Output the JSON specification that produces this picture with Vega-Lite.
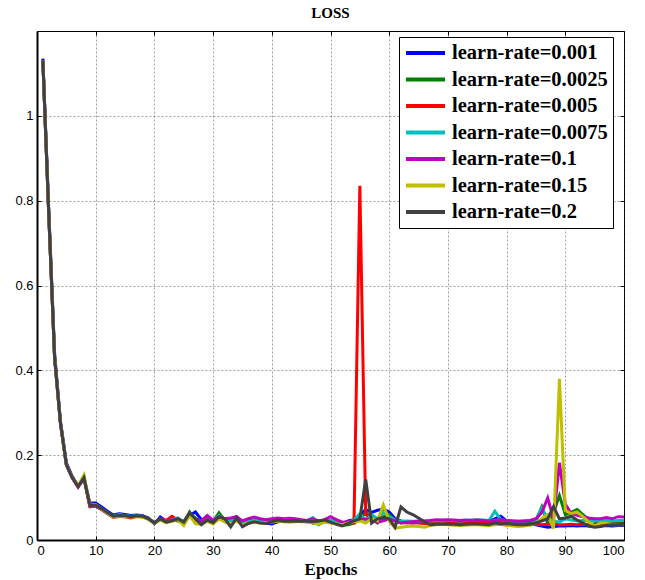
{
"$schema":"https://vega.github.io/schema/vega-lite/v6.json",
"width":587,"height":509,
"autosize":{"type":"none"},
"padding":{"left":37,"top":31,"right":21,"bottom":40},
"background":"white",
"title":{"text":"LOSS","font":"Liberation Serif","fontSize":15,"fontWeight":"bold","color":"black","anchor":"middle","offset":10},
"data":{"values":[
{"s":"learn-rate=0.001","x":1,"y":1.135},{"s":"learn-rate=0.001","x":2,"y":0.78},{"s":"learn-rate=0.001","x":3,"y":0.44},{"s":"learn-rate=0.001","x":4,"y":0.28},{"s":"learn-rate=0.001","x":5,"y":0.182},{"s":"learn-rate=0.001","x":6,"y":0.15},{"s":"learn-rate=0.001","x":7,"y":0.128},{"s":"learn-rate=0.001","x":8,"y":0.145},{"s":"learn-rate=0.001","x":9,"y":0.087},{"s":"learn-rate=0.001","x":10,"y":0.087},
{"s":"learn-rate=0.001","x":11,"y":0.078},{"s":"learn-rate=0.001","x":12,"y":0.068},{"s":"learn-rate=0.001","x":13,"y":0.059},{"s":"learn-rate=0.001","x":14,"y":0.062},{"s":"learn-rate=0.001","x":15,"y":0.06},{"s":"learn-rate=0.001","x":16,"y":0.058},{"s":"learn-rate=0.001","x":17,"y":0.059},{"s":"learn-rate=0.001","x":18,"y":0.057},{"s":"learn-rate=0.001","x":19,"y":0.052},{"s":"learn-rate=0.001","x":20,"y":0.038},
{"s":"learn-rate=0.001","x":21,"y":0.054},{"s":"learn-rate=0.001","x":22,"y":0.045},{"s":"learn-rate=0.001","x":23,"y":0.047},{"s":"learn-rate=0.001","x":24,"y":0.048},{"s":"learn-rate=0.001","x":25,"y":0.04},{"s":"learn-rate=0.001","x":26,"y":0.058},{"s":"learn-rate=0.001","x":27,"y":0.066},{"s":"learn-rate=0.001","x":28,"y":0.048},{"s":"learn-rate=0.001","x":29,"y":0.05},{"s":"learn-rate=0.001","x":30,"y":0.045},
{"s":"learn-rate=0.001","x":31,"y":0.05},{"s":"learn-rate=0.001","x":32,"y":0.045},{"s":"learn-rate=0.001","x":33,"y":0.05},{"s":"learn-rate=0.001","x":34,"y":0.046},{"s":"learn-rate=0.001","x":35,"y":0.043},{"s":"learn-rate=0.001","x":36,"y":0.045},{"s":"learn-rate=0.001","x":37,"y":0.047},{"s":"learn-rate=0.001","x":38,"y":0.042},{"s":"learn-rate=0.001","x":39,"y":0.04},{"s":"learn-rate=0.001","x":40,"y":0.038},
{"s":"learn-rate=0.001","x":41,"y":0.043},{"s":"learn-rate=0.001","x":42,"y":0.045},{"s":"learn-rate=0.001","x":43,"y":0.044},{"s":"learn-rate=0.001","x":44,"y":0.046},{"s":"learn-rate=0.001","x":45,"y":0.043},{"s":"learn-rate=0.001","x":46,"y":0.045},{"s":"learn-rate=0.001","x":47,"y":0.04},{"s":"learn-rate=0.001","x":48,"y":0.038},{"s":"learn-rate=0.001","x":49,"y":0.043},{"s":"learn-rate=0.001","x":50,"y":0.045},
{"s":"learn-rate=0.001","x":51,"y":0.04},{"s":"learn-rate=0.001","x":52,"y":0.038},{"s":"learn-rate=0.001","x":53,"y":0.045},{"s":"learn-rate=0.001","x":54,"y":0.048},{"s":"learn-rate=0.001","x":55,"y":0.058},{"s":"learn-rate=0.001","x":56,"y":0.072},{"s":"learn-rate=0.001","x":57,"y":0.065},{"s":"learn-rate=0.001","x":58,"y":0.07},{"s":"learn-rate=0.001","x":59,"y":0.073},{"s":"learn-rate=0.001","x":60,"y":0.066},
{"s":"learn-rate=0.001","x":61,"y":0.05},{"s":"learn-rate=0.001","x":62,"y":0.045},{"s":"learn-rate=0.001","x":63,"y":0.042},{"s":"learn-rate=0.001","x":64,"y":0.04},{"s":"learn-rate=0.001","x":65,"y":0.042},{"s":"learn-rate=0.001","x":66,"y":0.04},{"s":"learn-rate=0.001","x":67,"y":0.041},{"s":"learn-rate=0.001","x":68,"y":0.042},{"s":"learn-rate=0.001","x":69,"y":0.043},{"s":"learn-rate=0.001","x":70,"y":0.044},
{"s":"learn-rate=0.001","x":71,"y":0.043},{"s":"learn-rate=0.001","x":72,"y":0.042},{"s":"learn-rate=0.001","x":73,"y":0.044},{"s":"learn-rate=0.001","x":74,"y":0.045},{"s":"learn-rate=0.001","x":75,"y":0.044},{"s":"learn-rate=0.001","x":76,"y":0.043},{"s":"learn-rate=0.001","x":77,"y":0.044},{"s":"learn-rate=0.001","x":78,"y":0.05},{"s":"learn-rate=0.001","x":79,"y":0.056},{"s":"learn-rate=0.001","x":80,"y":0.045},
{"s":"learn-rate=0.001","x":81,"y":0.04},{"s":"learn-rate=0.001","x":82,"y":0.039},{"s":"learn-rate=0.001","x":83,"y":0.038},{"s":"learn-rate=0.001","x":84,"y":0.037},{"s":"learn-rate=0.001","x":85,"y":0.036},{"s":"learn-rate=0.001","x":86,"y":0.033},{"s":"learn-rate=0.001","x":87,"y":0.03},{"s":"learn-rate=0.001","x":88,"y":0.032},{"s":"learn-rate=0.001","x":89,"y":0.033},{"s":"learn-rate=0.001","x":90,"y":0.033},
{"s":"learn-rate=0.001","x":91,"y":0.034},{"s":"learn-rate=0.001","x":92,"y":0.033},{"s":"learn-rate=0.001","x":93,"y":0.034},{"s":"learn-rate=0.001","x":94,"y":0.033},{"s":"learn-rate=0.001","x":95,"y":0.034},{"s":"learn-rate=0.001","x":96,"y":0.033},{"s":"learn-rate=0.001","x":97,"y":0.034},{"s":"learn-rate=0.001","x":98,"y":0.033},{"s":"learn-rate=0.001","x":99,"y":0.034},{"s":"learn-rate=0.001","x":100,"y":0.034},

{"s":"learn-rate=0.0025","x":1,"y":1.13},{"s":"learn-rate=0.0025","x":2,"y":0.77},{"s":"learn-rate=0.0025","x":3,"y":0.43},{"s":"learn-rate=0.0025","x":4,"y":0.275},{"s":"learn-rate=0.0025","x":5,"y":0.178},{"s":"learn-rate=0.0025","x":6,"y":0.147},{"s":"learn-rate=0.0025","x":7,"y":0.126},{"s":"learn-rate=0.0025","x":8,"y":0.148},{"s":"learn-rate=0.0025","x":9,"y":0.082},{"s":"learn-rate=0.0025","x":10,"y":0.082},
{"s":"learn-rate=0.0025","x":11,"y":0.073},{"s":"learn-rate=0.0025","x":12,"y":0.064},{"s":"learn-rate=0.0025","x":13,"y":0.055},{"s":"learn-rate=0.0025","x":14,"y":0.056},{"s":"learn-rate=0.0025","x":15,"y":0.056},{"s":"learn-rate=0.0025","x":16,"y":0.054},{"s":"learn-rate=0.0025","x":17,"y":0.056},{"s":"learn-rate=0.0025","x":18,"y":0.055},{"s":"learn-rate=0.0025","x":19,"y":0.049},{"s":"learn-rate=0.0025","x":20,"y":0.041},
{"s":"learn-rate=0.0025","x":21,"y":0.048},{"s":"learn-rate=0.0025","x":22,"y":0.043},{"s":"learn-rate=0.0025","x":23,"y":0.047},{"s":"learn-rate=0.0025","x":24,"y":0.045},{"s":"learn-rate=0.0025","x":25,"y":0.041},{"s":"learn-rate=0.0025","x":26,"y":0.066},{"s":"learn-rate=0.0025","x":27,"y":0.047},{"s":"learn-rate=0.0025","x":28,"y":0.04},{"s":"learn-rate=0.0025","x":29,"y":0.045},{"s":"learn-rate=0.0025","x":30,"y":0.044},
{"s":"learn-rate=0.0025","x":31,"y":0.064},{"s":"learn-rate=0.0025","x":32,"y":0.046},{"s":"learn-rate=0.0025","x":33,"y":0.047},{"s":"learn-rate=0.0025","x":34,"y":0.055},{"s":"learn-rate=0.0025","x":35,"y":0.038},{"s":"learn-rate=0.0025","x":36,"y":0.042},{"s":"learn-rate=0.0025","x":37,"y":0.046},{"s":"learn-rate=0.0025","x":38,"y":0.044},{"s":"learn-rate=0.0025","x":39,"y":0.043},{"s":"learn-rate=0.0025","x":40,"y":0.045},
{"s":"learn-rate=0.0025","x":41,"y":0.048},{"s":"learn-rate=0.0025","x":42,"y":0.046},{"s":"learn-rate=0.0025","x":43,"y":0.045},{"s":"learn-rate=0.0025","x":44,"y":0.046},{"s":"learn-rate=0.0025","x":45,"y":0.045},{"s":"learn-rate=0.0025","x":46,"y":0.044},{"s":"learn-rate=0.0025","x":47,"y":0.046},{"s":"learn-rate=0.0025","x":48,"y":0.044},{"s":"learn-rate=0.0025","x":49,"y":0.046},{"s":"learn-rate=0.0025","x":50,"y":0.044},
{"s":"learn-rate=0.0025","x":51,"y":0.04},{"s":"learn-rate=0.0025","x":52,"y":0.035},{"s":"learn-rate=0.0025","x":53,"y":0.036},{"s":"learn-rate=0.0025","x":54,"y":0.04},{"s":"learn-rate=0.0025","x":55,"y":0.05},{"s":"learn-rate=0.0025","x":56,"y":0.065},{"s":"learn-rate=0.0025","x":57,"y":0.052},{"s":"learn-rate=0.0025","x":58,"y":0.04},{"s":"learn-rate=0.0025","x":59,"y":0.055},{"s":"learn-rate=0.0025","x":60,"y":0.06},
{"s":"learn-rate=0.0025","x":61,"y":0.045},{"s":"learn-rate=0.0025","x":62,"y":0.04},{"s":"learn-rate=0.0025","x":63,"y":0.042},{"s":"learn-rate=0.0025","x":64,"y":0.043},{"s":"learn-rate=0.0025","x":65,"y":0.041},{"s":"learn-rate=0.0025","x":66,"y":0.04},{"s":"learn-rate=0.0025","x":67,"y":0.041},{"s":"learn-rate=0.0025","x":68,"y":0.042},{"s":"learn-rate=0.0025","x":69,"y":0.042},{"s":"learn-rate=0.0025","x":70,"y":0.043},
{"s":"learn-rate=0.0025","x":71,"y":0.042},{"s":"learn-rate=0.0025","x":72,"y":0.041},{"s":"learn-rate=0.0025","x":73,"y":0.042},{"s":"learn-rate=0.0025","x":74,"y":0.043},{"s":"learn-rate=0.0025","x":75,"y":0.043},{"s":"learn-rate=0.0025","x":76,"y":0.042},{"s":"learn-rate=0.0025","x":77,"y":0.043},{"s":"learn-rate=0.0025","x":78,"y":0.044},{"s":"learn-rate=0.0025","x":79,"y":0.043},{"s":"learn-rate=0.0025","x":80,"y":0.042},
{"s":"learn-rate=0.0025","x":81,"y":0.041},{"s":"learn-rate=0.0025","x":82,"y":0.04},{"s":"learn-rate=0.0025","x":83,"y":0.041},{"s":"learn-rate=0.0025","x":84,"y":0.042},{"s":"learn-rate=0.0025","x":85,"y":0.045},{"s":"learn-rate=0.0025","x":86,"y":0.078},{"s":"learn-rate=0.0025","x":87,"y":0.04},{"s":"learn-rate=0.0025","x":88,"y":0.065},{"s":"learn-rate=0.0025","x":89,"y":0.105},{"s":"learn-rate=0.0025","x":90,"y":0.06},
{"s":"learn-rate=0.0025","x":91,"y":0.065},{"s":"learn-rate=0.0025","x":92,"y":0.072},{"s":"learn-rate=0.0025","x":93,"y":0.06},{"s":"learn-rate=0.0025","x":94,"y":0.048},{"s":"learn-rate=0.0025","x":95,"y":0.044},{"s":"learn-rate=0.0025","x":96,"y":0.042},{"s":"learn-rate=0.0025","x":97,"y":0.041},{"s":"learn-rate=0.0025","x":98,"y":0.042},{"s":"learn-rate=0.0025","x":99,"y":0.041},{"s":"learn-rate=0.0025","x":100,"y":0.042},

{"s":"learn-rate=0.005","x":1,"y":1.13},{"s":"learn-rate=0.005","x":2,"y":0.77},{"s":"learn-rate=0.005","x":3,"y":0.43},{"s":"learn-rate=0.005","x":4,"y":0.275},{"s":"learn-rate=0.005","x":5,"y":0.177},{"s":"learn-rate=0.005","x":6,"y":0.146},{"s":"learn-rate=0.005","x":7,"y":0.125},{"s":"learn-rate=0.005","x":8,"y":0.146},{"s":"learn-rate=0.005","x":9,"y":0.078},{"s":"learn-rate=0.005","x":10,"y":0.08},
{"s":"learn-rate=0.005","x":11,"y":0.072},{"s":"learn-rate=0.005","x":12,"y":0.063},{"s":"learn-rate=0.005","x":13,"y":0.055},{"s":"learn-rate=0.005","x":14,"y":0.056},{"s":"learn-rate=0.005","x":15,"y":0.055},{"s":"learn-rate=0.005","x":16,"y":0.052},{"s":"learn-rate=0.005","x":17,"y":0.056},{"s":"learn-rate=0.005","x":18,"y":0.055},{"s":"learn-rate=0.005","x":19,"y":0.05},{"s":"learn-rate=0.005","x":20,"y":0.042},
{"s":"learn-rate=0.005","x":21,"y":0.05},{"s":"learn-rate=0.005","x":22,"y":0.046},{"s":"learn-rate=0.005","x":23,"y":0.056},{"s":"learn-rate=0.005","x":24,"y":0.047},{"s":"learn-rate=0.005","x":25,"y":0.044},{"s":"learn-rate=0.005","x":26,"y":0.06},{"s":"learn-rate=0.005","x":27,"y":0.048},{"s":"learn-rate=0.005","x":28,"y":0.042},{"s":"learn-rate=0.005","x":29,"y":0.05},{"s":"learn-rate=0.005","x":30,"y":0.044},
{"s":"learn-rate=0.005","x":31,"y":0.058},{"s":"learn-rate=0.005","x":32,"y":0.048},{"s":"learn-rate=0.005","x":33,"y":0.045},{"s":"learn-rate=0.005","x":34,"y":0.05},{"s":"learn-rate=0.005","x":35,"y":0.042},{"s":"learn-rate=0.005","x":36,"y":0.046},{"s":"learn-rate=0.005","x":37,"y":0.048},{"s":"learn-rate=0.005","x":38,"y":0.045},{"s":"learn-rate=0.005","x":39,"y":0.044},{"s":"learn-rate=0.005","x":40,"y":0.046},
{"s":"learn-rate=0.005","x":41,"y":0.047},{"s":"learn-rate=0.005","x":42,"y":0.045},{"s":"learn-rate=0.005","x":43,"y":0.046},{"s":"learn-rate=0.005","x":44,"y":0.047},{"s":"learn-rate=0.005","x":45,"y":0.045},{"s":"learn-rate=0.005","x":46,"y":0.043},{"s":"learn-rate=0.005","x":47,"y":0.045},{"s":"learn-rate=0.005","x":48,"y":0.042},{"s":"learn-rate=0.005","x":49,"y":0.045},{"s":"learn-rate=0.005","x":50,"y":0.046},
{"s":"learn-rate=0.005","x":51,"y":0.042},{"s":"learn-rate=0.005","x":52,"y":0.04},{"s":"learn-rate=0.005","x":53,"y":0.042},{"s":"learn-rate=0.005","x":54,"y":0.04},{"s":"learn-rate=0.005","x":55,"y":0.835},{"s":"learn-rate=0.005","x":56,"y":0.06},{"s":"learn-rate=0.005","x":57,"y":0.05},{"s":"learn-rate=0.005","x":58,"y":0.048},{"s":"learn-rate=0.005","x":59,"y":0.05},{"s":"learn-rate=0.005","x":60,"y":0.052},
{"s":"learn-rate=0.005","x":61,"y":0.045},{"s":"learn-rate=0.005","x":62,"y":0.042},{"s":"learn-rate=0.005","x":63,"y":0.04},{"s":"learn-rate=0.005","x":64,"y":0.041},{"s":"learn-rate=0.005","x":65,"y":0.04},{"s":"learn-rate=0.005","x":66,"y":0.039},{"s":"learn-rate=0.005","x":67,"y":0.04},{"s":"learn-rate=0.005","x":68,"y":0.041},{"s":"learn-rate=0.005","x":69,"y":0.04},{"s":"learn-rate=0.005","x":70,"y":0.041},
{"s":"learn-rate=0.005","x":71,"y":0.04},{"s":"learn-rate=0.005","x":72,"y":0.039},{"s":"learn-rate=0.005","x":73,"y":0.04},{"s":"learn-rate=0.005","x":74,"y":0.041},{"s":"learn-rate=0.005","x":75,"y":0.04},{"s":"learn-rate=0.005","x":76,"y":0.039},{"s":"learn-rate=0.005","x":77,"y":0.04},{"s":"learn-rate=0.005","x":78,"y":0.045},{"s":"learn-rate=0.005","x":79,"y":0.04},{"s":"learn-rate=0.005","x":80,"y":0.035},
{"s":"learn-rate=0.005","x":81,"y":0.034},{"s":"learn-rate=0.005","x":82,"y":0.035},{"s":"learn-rate=0.005","x":83,"y":0.036},{"s":"learn-rate=0.005","x":84,"y":0.036},{"s":"learn-rate=0.005","x":85,"y":0.037},{"s":"learn-rate=0.005","x":86,"y":0.036},{"s":"learn-rate=0.005","x":87,"y":0.037},{"s":"learn-rate=0.005","x":88,"y":0.038},{"s":"learn-rate=0.005","x":89,"y":0.036},{"s":"learn-rate=0.005","x":90,"y":0.036},
{"s":"learn-rate=0.005","x":91,"y":0.037},{"s":"learn-rate=0.005","x":92,"y":0.036},{"s":"learn-rate=0.005","x":93,"y":0.037},{"s":"learn-rate=0.005","x":94,"y":0.036},{"s":"learn-rate=0.005","x":95,"y":0.037},{"s":"learn-rate=0.005","x":96,"y":0.036},{"s":"learn-rate=0.005","x":97,"y":0.037},{"s":"learn-rate=0.005","x":98,"y":0.038},{"s":"learn-rate=0.005","x":99,"y":0.037},{"s":"learn-rate=0.005","x":100,"y":0.038},

{"s":"learn-rate=0.0075","x":1,"y":1.13},{"s":"learn-rate=0.0075","x":2,"y":0.77},{"s":"learn-rate=0.0075","x":3,"y":0.43},{"s":"learn-rate=0.0075","x":4,"y":0.275},{"s":"learn-rate=0.0075","x":5,"y":0.178},{"s":"learn-rate=0.0075","x":6,"y":0.147},{"s":"learn-rate=0.0075","x":7,"y":0.126},{"s":"learn-rate=0.0075","x":8,"y":0.147},{"s":"learn-rate=0.0075","x":9,"y":0.082},{"s":"learn-rate=0.0075","x":10,"y":0.082},
{"s":"learn-rate=0.0075","x":11,"y":0.074},{"s":"learn-rate=0.0075","x":12,"y":0.065},{"s":"learn-rate=0.0075","x":13,"y":0.056},{"s":"learn-rate=0.0075","x":14,"y":0.06},{"s":"learn-rate=0.0075","x":15,"y":0.058},{"s":"learn-rate=0.0075","x":16,"y":0.056},{"s":"learn-rate=0.0075","x":17,"y":0.058},{"s":"learn-rate=0.0075","x":18,"y":0.056},{"s":"learn-rate=0.0075","x":19,"y":0.05},{"s":"learn-rate=0.0075","x":20,"y":0.042},
{"s":"learn-rate=0.0075","x":21,"y":0.05},{"s":"learn-rate=0.0075","x":22,"y":0.044},{"s":"learn-rate=0.0075","x":23,"y":0.048},{"s":"learn-rate=0.0075","x":24,"y":0.052},{"s":"learn-rate=0.0075","x":25,"y":0.043},{"s":"learn-rate=0.0075","x":26,"y":0.062},{"s":"learn-rate=0.0075","x":27,"y":0.052},{"s":"learn-rate=0.0075","x":28,"y":0.044},{"s":"learn-rate=0.0075","x":29,"y":0.048},{"s":"learn-rate=0.0075","x":30,"y":0.045},
{"s":"learn-rate=0.0075","x":31,"y":0.058},{"s":"learn-rate=0.0075","x":32,"y":0.047},{"s":"learn-rate=0.0075","x":33,"y":0.046},{"s":"learn-rate=0.0075","x":34,"y":0.05},{"s":"learn-rate=0.0075","x":35,"y":0.041},{"s":"learn-rate=0.0075","x":36,"y":0.044},{"s":"learn-rate=0.0075","x":37,"y":0.047},{"s":"learn-rate=0.0075","x":38,"y":0.046},{"s":"learn-rate=0.0075","x":39,"y":0.044},{"s":"learn-rate=0.0075","x":40,"y":0.046},
{"s":"learn-rate=0.0075","x":41,"y":0.047},{"s":"learn-rate=0.0075","x":42,"y":0.046},{"s":"learn-rate=0.0075","x":43,"y":0.047},{"s":"learn-rate=0.0075","x":44,"y":0.046},{"s":"learn-rate=0.0075","x":45,"y":0.045},{"s":"learn-rate=0.0075","x":46,"y":0.046},{"s":"learn-rate=0.0075","x":47,"y":0.053},{"s":"learn-rate=0.0075","x":48,"y":0.036},{"s":"learn-rate=0.0075","x":49,"y":0.045},{"s":"learn-rate=0.0075","x":50,"y":0.047},
{"s":"learn-rate=0.0075","x":51,"y":0.043},{"s":"learn-rate=0.0075","x":52,"y":0.04},{"s":"learn-rate=0.0075","x":53,"y":0.042},{"s":"learn-rate=0.0075","x":54,"y":0.047},{"s":"learn-rate=0.0075","x":55,"y":0.062},{"s":"learn-rate=0.0075","x":56,"y":0.045},{"s":"learn-rate=0.0075","x":57,"y":0.06},{"s":"learn-rate=0.0075","x":58,"y":0.05},{"s":"learn-rate=0.0075","x":59,"y":0.065},{"s":"learn-rate=0.0075","x":60,"y":0.055},
{"s":"learn-rate=0.0075","x":61,"y":0.047},{"s":"learn-rate=0.0075","x":62,"y":0.044},{"s":"learn-rate=0.0075","x":63,"y":0.045},{"s":"learn-rate=0.0075","x":64,"y":0.044},{"s":"learn-rate=0.0075","x":65,"y":0.045},{"s":"learn-rate=0.0075","x":66,"y":0.044},{"s":"learn-rate=0.0075","x":67,"y":0.045},{"s":"learn-rate=0.0075","x":68,"y":0.046},{"s":"learn-rate=0.0075","x":69,"y":0.045},{"s":"learn-rate=0.0075","x":70,"y":0.046},
{"s":"learn-rate=0.0075","x":71,"y":0.046},{"s":"learn-rate=0.0075","x":72,"y":0.045},{"s":"learn-rate=0.0075","x":73,"y":0.046},{"s":"learn-rate=0.0075","x":74,"y":0.047},{"s":"learn-rate=0.0075","x":75,"y":0.048},{"s":"learn-rate=0.0075","x":76,"y":0.047},{"s":"learn-rate=0.0075","x":77,"y":0.046},{"s":"learn-rate=0.0075","x":78,"y":0.068},{"s":"learn-rate=0.0075","x":79,"y":0.048},{"s":"learn-rate=0.0075","x":80,"y":0.046},
{"s":"learn-rate=0.0075","x":81,"y":0.045},{"s":"learn-rate=0.0075","x":82,"y":0.044},{"s":"learn-rate=0.0075","x":83,"y":0.045},{"s":"learn-rate=0.0075","x":84,"y":0.046},{"s":"learn-rate=0.0075","x":85,"y":0.048},{"s":"learn-rate=0.0075","x":86,"y":0.075},{"s":"learn-rate=0.0075","x":87,"y":0.05},{"s":"learn-rate=0.0075","x":88,"y":0.045},{"s":"learn-rate=0.0075","x":89,"y":0.042},{"s":"learn-rate=0.0075","x":90,"y":0.05},
{"s":"learn-rate=0.0075","x":91,"y":0.047},{"s":"learn-rate=0.0075","x":92,"y":0.045},{"s":"learn-rate=0.0075","x":93,"y":0.046},{"s":"learn-rate=0.0075","x":94,"y":0.045},{"s":"learn-rate=0.0075","x":95,"y":0.046},{"s":"learn-rate=0.0075","x":96,"y":0.045},{"s":"learn-rate=0.0075","x":97,"y":0.046},{"s":"learn-rate=0.0075","x":98,"y":0.045},{"s":"learn-rate=0.0075","x":99,"y":0.046},{"s":"learn-rate=0.0075","x":100,"y":0.046},

{"s":"learn-rate=0.1","x":1,"y":1.13},{"s":"learn-rate=0.1","x":2,"y":0.77},{"s":"learn-rate=0.1","x":3,"y":0.43},{"s":"learn-rate=0.1","x":4,"y":0.275},{"s":"learn-rate=0.1","x":5,"y":0.178},{"s":"learn-rate=0.1","x":6,"y":0.147},{"s":"learn-rate=0.1","x":7,"y":0.125},{"s":"learn-rate=0.1","x":8,"y":0.147},{"s":"learn-rate=0.1","x":9,"y":0.081},{"s":"learn-rate=0.1","x":10,"y":0.08},
{"s":"learn-rate=0.1","x":11,"y":0.072},{"s":"learn-rate=0.1","x":12,"y":0.062},{"s":"learn-rate=0.1","x":13,"y":0.053},{"s":"learn-rate=0.1","x":14,"y":0.056},{"s":"learn-rate=0.1","x":15,"y":0.056},{"s":"learn-rate=0.1","x":16,"y":0.054},{"s":"learn-rate=0.1","x":17,"y":0.056},{"s":"learn-rate=0.1","x":18,"y":0.055},{"s":"learn-rate=0.1","x":19,"y":0.049},{"s":"learn-rate=0.1","x":20,"y":0.04},
{"s":"learn-rate=0.1","x":21,"y":0.05},{"s":"learn-rate=0.1","x":22,"y":0.044},{"s":"learn-rate=0.1","x":23,"y":0.047},{"s":"learn-rate=0.1","x":24,"y":0.05},{"s":"learn-rate=0.1","x":25,"y":0.042},{"s":"learn-rate=0.1","x":26,"y":0.06},{"s":"learn-rate=0.1","x":27,"y":0.05},{"s":"learn-rate=0.1","x":28,"y":0.045},{"s":"learn-rate=0.1","x":29,"y":0.058},{"s":"learn-rate=0.1","x":30,"y":0.046},
{"s":"learn-rate=0.1","x":31,"y":0.055},{"s":"learn-rate=0.1","x":32,"y":0.05},{"s":"learn-rate=0.1","x":33,"y":0.052},{"s":"learn-rate=0.1","x":34,"y":0.055},{"s":"learn-rate=0.1","x":35,"y":0.045},{"s":"learn-rate=0.1","x":36,"y":0.05},{"s":"learn-rate=0.1","x":37,"y":0.054},{"s":"learn-rate=0.1","x":38,"y":0.05},{"s":"learn-rate=0.1","x":39,"y":0.048},{"s":"learn-rate=0.1","x":40,"y":0.05},
{"s":"learn-rate=0.1","x":41,"y":0.052},{"s":"learn-rate=0.1","x":42,"y":0.05},{"s":"learn-rate=0.1","x":43,"y":0.051},{"s":"learn-rate=0.1","x":44,"y":0.05},{"s":"learn-rate=0.1","x":45,"y":0.048},{"s":"learn-rate=0.1","x":46,"y":0.046},{"s":"learn-rate=0.1","x":47,"y":0.05},{"s":"learn-rate=0.1","x":48,"y":0.045},{"s":"learn-rate=0.1","x":49,"y":0.048},{"s":"learn-rate=0.1","x":50,"y":0.055},
{"s":"learn-rate=0.1","x":51,"y":0.048},{"s":"learn-rate=0.1","x":52,"y":0.042},{"s":"learn-rate=0.1","x":53,"y":0.043},{"s":"learn-rate=0.1","x":54,"y":0.044},{"s":"learn-rate=0.1","x":55,"y":0.048},{"s":"learn-rate=0.1","x":56,"y":0.05},{"s":"learn-rate=0.1","x":57,"y":0.045},{"s":"learn-rate=0.1","x":58,"y":0.042},{"s":"learn-rate=0.1","x":59,"y":0.045},{"s":"learn-rate=0.1","x":60,"y":0.05},
{"s":"learn-rate=0.1","x":61,"y":0.045},{"s":"learn-rate=0.1","x":62,"y":0.04},{"s":"learn-rate=0.1","x":63,"y":0.042},{"s":"learn-rate=0.1","x":64,"y":0.043},{"s":"learn-rate=0.1","x":65,"y":0.044},{"s":"learn-rate=0.1","x":66,"y":0.045},{"s":"learn-rate=0.1","x":67,"y":0.046},{"s":"learn-rate=0.1","x":68,"y":0.048},{"s":"learn-rate=0.1","x":69,"y":0.047},{"s":"learn-rate=0.1","x":70,"y":0.048},
{"s":"learn-rate=0.1","x":71,"y":0.047},{"s":"learn-rate=0.1","x":72,"y":0.046},{"s":"learn-rate=0.1","x":73,"y":0.047},{"s":"learn-rate=0.1","x":74,"y":0.046},{"s":"learn-rate=0.1","x":75,"y":0.047},{"s":"learn-rate=0.1","x":76,"y":0.046},{"s":"learn-rate=0.1","x":77,"y":0.045},{"s":"learn-rate=0.1","x":78,"y":0.047},{"s":"learn-rate=0.1","x":79,"y":0.048},{"s":"learn-rate=0.1","x":80,"y":0.046},
{"s":"learn-rate=0.1","x":81,"y":0.045},{"s":"learn-rate=0.1","x":82,"y":0.044},{"s":"learn-rate=0.1","x":83,"y":0.045},{"s":"learn-rate=0.1","x":84,"y":0.046},{"s":"learn-rate=0.1","x":85,"y":0.05},{"s":"learn-rate=0.1","x":86,"y":0.065},{"s":"learn-rate=0.1","x":87,"y":0.099},{"s":"learn-rate=0.1","x":88,"y":0.05},{"s":"learn-rate=0.1","x":89,"y":0.182},{"s":"learn-rate=0.1","x":90,"y":0.085},
{"s":"learn-rate=0.1","x":91,"y":0.062},{"s":"learn-rate=0.1","x":92,"y":0.058},{"s":"learn-rate=0.1","x":93,"y":0.055},{"s":"learn-rate=0.1","x":94,"y":0.052},{"s":"learn-rate=0.1","x":95,"y":0.05},{"s":"learn-rate=0.1","x":96,"y":0.05},{"s":"learn-rate=0.1","x":97,"y":0.053},{"s":"learn-rate=0.1","x":98,"y":0.05},{"s":"learn-rate=0.1","x":99,"y":0.055},{"s":"learn-rate=0.1","x":100,"y":0.054},

{"s":"learn-rate=0.15","x":1,"y":1.13},{"s":"learn-rate=0.15","x":2,"y":0.77},{"s":"learn-rate=0.15","x":3,"y":0.43},{"s":"learn-rate=0.15","x":4,"y":0.275},{"s":"learn-rate=0.15","x":5,"y":0.178},{"s":"learn-rate=0.15","x":6,"y":0.148},{"s":"learn-rate=0.15","x":7,"y":0.128},{"s":"learn-rate=0.15","x":8,"y":0.153},{"s":"learn-rate=0.15","x":9,"y":0.085},{"s":"learn-rate=0.15","x":10,"y":0.083},
{"s":"learn-rate=0.15","x":11,"y":0.073},{"s":"learn-rate=0.15","x":12,"y":0.063},{"s":"learn-rate=0.15","x":13,"y":0.054},{"s":"learn-rate=0.15","x":14,"y":0.055},{"s":"learn-rate=0.15","x":15,"y":0.055},{"s":"learn-rate=0.15","x":16,"y":0.054},{"s":"learn-rate=0.15","x":17,"y":0.055},{"s":"learn-rate=0.15","x":18,"y":0.054},{"s":"learn-rate=0.15","x":19,"y":0.048},{"s":"learn-rate=0.15","x":20,"y":0.039},
{"s":"learn-rate=0.15","x":21,"y":0.047},{"s":"learn-rate=0.15","x":22,"y":0.041},{"s":"learn-rate=0.15","x":23,"y":0.044},{"s":"learn-rate=0.15","x":24,"y":0.048},{"s":"learn-rate=0.15","x":25,"y":0.034},{"s":"learn-rate=0.15","x":26,"y":0.058},{"s":"learn-rate=0.15","x":27,"y":0.038},{"s":"learn-rate=0.15","x":28,"y":0.037},{"s":"learn-rate=0.15","x":29,"y":0.044},{"s":"learn-rate=0.15","x":30,"y":0.038},
{"s":"learn-rate=0.15","x":31,"y":0.05},{"s":"learn-rate=0.15","x":32,"y":0.042},{"s":"learn-rate=0.15","x":33,"y":0.038},{"s":"learn-rate=0.15","x":34,"y":0.045},{"s":"learn-rate=0.15","x":35,"y":0.035},{"s":"learn-rate=0.15","x":36,"y":0.04},{"s":"learn-rate=0.15","x":37,"y":0.043},{"s":"learn-rate=0.15","x":38,"y":0.04},{"s":"learn-rate=0.15","x":39,"y":0.041},{"s":"learn-rate=0.15","x":40,"y":0.042},
{"s":"learn-rate=0.15","x":41,"y":0.045},{"s":"learn-rate=0.15","x":42,"y":0.043},{"s":"learn-rate=0.15","x":43,"y":0.042},{"s":"learn-rate=0.15","x":44,"y":0.043},{"s":"learn-rate=0.15","x":45,"y":0.044},{"s":"learn-rate=0.15","x":46,"y":0.042},{"s":"learn-rate=0.15","x":47,"y":0.04},{"s":"learn-rate=0.15","x":48,"y":0.038},{"s":"learn-rate=0.15","x":49,"y":0.042},{"s":"learn-rate=0.15","x":50,"y":0.04},
{"s":"learn-rate=0.15","x":51,"y":0.038},{"s":"learn-rate=0.15","x":52,"y":0.036},{"s":"learn-rate=0.15","x":53,"y":0.04},{"s":"learn-rate=0.15","x":54,"y":0.043},{"s":"learn-rate=0.15","x":55,"y":0.045},{"s":"learn-rate=0.15","x":56,"y":0.04},{"s":"learn-rate=0.15","x":57,"y":0.05},{"s":"learn-rate=0.15","x":58,"y":0.045},{"s":"learn-rate=0.15","x":59,"y":0.083},{"s":"learn-rate=0.15","x":60,"y":0.045},
{"s":"learn-rate=0.15","x":61,"y":0.028},{"s":"learn-rate=0.15","x":62,"y":0.03},{"s":"learn-rate=0.15","x":63,"y":0.032},{"s":"learn-rate=0.15","x":64,"y":0.033},{"s":"learn-rate=0.15","x":65,"y":0.032},{"s":"learn-rate=0.15","x":66,"y":0.03},{"s":"learn-rate=0.15","x":67,"y":0.034},{"s":"learn-rate=0.15","x":68,"y":0.036},{"s":"learn-rate=0.15","x":69,"y":0.037},{"s":"learn-rate=0.15","x":70,"y":0.036},
{"s":"learn-rate=0.15","x":71,"y":0.035},{"s":"learn-rate=0.15","x":72,"y":0.034},{"s":"learn-rate=0.15","x":73,"y":0.035},{"s":"learn-rate=0.15","x":74,"y":0.036},{"s":"learn-rate=0.15","x":75,"y":0.036},{"s":"learn-rate=0.15","x":76,"y":0.035},{"s":"learn-rate=0.15","x":77,"y":0.034},{"s":"learn-rate=0.15","x":78,"y":0.036},{"s":"learn-rate=0.15","x":79,"y":0.037},{"s":"learn-rate=0.15","x":80,"y":0.035},
{"s":"learn-rate=0.15","x":81,"y":0.033},{"s":"learn-rate=0.15","x":82,"y":0.032},{"s":"learn-rate=0.15","x":83,"y":0.033},{"s":"learn-rate=0.15","x":84,"y":0.035},{"s":"learn-rate=0.15","x":85,"y":0.04},{"s":"learn-rate=0.15","x":86,"y":0.05},{"s":"learn-rate=0.15","x":87,"y":0.06},{"s":"learn-rate=0.15","x":88,"y":0.027},{"s":"learn-rate=0.15","x":89,"y":0.38},{"s":"learn-rate=0.15","x":90,"y":0.07},
{"s":"learn-rate=0.15","x":91,"y":0.062},{"s":"learn-rate=0.15","x":92,"y":0.066},{"s":"learn-rate=0.15","x":93,"y":0.055},{"s":"learn-rate=0.15","x":94,"y":0.042},{"s":"learn-rate=0.15","x":95,"y":0.033},{"s":"learn-rate=0.15","x":96,"y":0.04},{"s":"learn-rate=0.15","x":97,"y":0.04},{"s":"learn-rate=0.15","x":98,"y":0.036},{"s":"learn-rate=0.15","x":99,"y":0.036},{"s":"learn-rate=0.15","x":100,"y":0.036},

{"s":"learn-rate=0.2","x":1,"y":1.13},{"s":"learn-rate=0.2","x":2,"y":0.77},{"s":"learn-rate=0.2","x":3,"y":0.43},{"s":"learn-rate=0.2","x":4,"y":0.275},{"s":"learn-rate=0.2","x":5,"y":0.178},{"s":"learn-rate=0.2","x":6,"y":0.147},{"s":"learn-rate=0.2","x":7,"y":0.126},{"s":"learn-rate=0.2","x":8,"y":0.147},{"s":"learn-rate=0.2","x":9,"y":0.083},{"s":"learn-rate=0.2","x":10,"y":0.082},
{"s":"learn-rate=0.2","x":11,"y":0.074},{"s":"learn-rate=0.2","x":12,"y":0.065},{"s":"learn-rate=0.2","x":13,"y":0.056},{"s":"learn-rate=0.2","x":14,"y":0.058},{"s":"learn-rate=0.2","x":15,"y":0.057},{"s":"learn-rate=0.2","x":16,"y":0.055},{"s":"learn-rate=0.2","x":17,"y":0.057},{"s":"learn-rate=0.2","x":18,"y":0.056},{"s":"learn-rate=0.2","x":19,"y":0.05},{"s":"learn-rate=0.2","x":20,"y":0.04},
{"s":"learn-rate=0.2","x":21,"y":0.05},{"s":"learn-rate=0.2","x":22,"y":0.042},{"s":"learn-rate=0.2","x":23,"y":0.045},{"s":"learn-rate=0.2","x":24,"y":0.05},{"s":"learn-rate=0.2","x":25,"y":0.042},{"s":"learn-rate=0.2","x":26,"y":0.064},{"s":"learn-rate=0.2","x":27,"y":0.05},{"s":"learn-rate=0.2","x":28,"y":0.036},{"s":"learn-rate=0.2","x":29,"y":0.047},{"s":"learn-rate=0.2","x":30,"y":0.041},
{"s":"learn-rate=0.2","x":31,"y":0.055},{"s":"learn-rate=0.2","x":32,"y":0.05},{"s":"learn-rate=0.2","x":33,"y":0.031},{"s":"learn-rate=0.2","x":34,"y":0.052},{"s":"learn-rate=0.2","x":35,"y":0.031},{"s":"learn-rate=0.2","x":36,"y":0.039},{"s":"learn-rate=0.2","x":37,"y":0.043},{"s":"learn-rate=0.2","x":38,"y":0.04},{"s":"learn-rate=0.2","x":39,"y":0.039},{"s":"learn-rate=0.2","x":40,"y":0.043},
{"s":"learn-rate=0.2","x":41,"y":0.047},{"s":"learn-rate=0.2","x":42,"y":0.044},{"s":"learn-rate=0.2","x":43,"y":0.044},{"s":"learn-rate=0.2","x":44,"y":0.045},{"s":"learn-rate=0.2","x":45,"y":0.044},{"s":"learn-rate=0.2","x":46,"y":0.044},{"s":"learn-rate=0.2","x":47,"y":0.043},{"s":"learn-rate=0.2","x":48,"y":0.045},{"s":"learn-rate=0.2","x":49,"y":0.047},{"s":"learn-rate=0.2","x":50,"y":0.042},
{"s":"learn-rate=0.2","x":51,"y":0.037},{"s":"learn-rate=0.2","x":52,"y":0.033},{"s":"learn-rate=0.2","x":53,"y":0.039},{"s":"learn-rate=0.2","x":54,"y":0.045},{"s":"learn-rate=0.2","x":55,"y":0.05},{"s":"learn-rate=0.2","x":56,"y":0.143},{"s":"learn-rate=0.2","x":57,"y":0.04},{"s":"learn-rate=0.2","x":58,"y":0.05},{"s":"learn-rate=0.2","x":59,"y":0.053},{"s":"learn-rate=0.2","x":60,"y":0.05},
{"s":"learn-rate=0.2","x":61,"y":0.03},{"s":"learn-rate=0.2","x":62,"y":0.078},{"s":"learn-rate=0.2","x":63,"y":0.066},{"s":"learn-rate=0.2","x":64,"y":0.06},{"s":"learn-rate=0.2","x":65,"y":0.052},{"s":"learn-rate=0.2","x":66,"y":0.043},{"s":"learn-rate=0.2","x":67,"y":0.036},{"s":"learn-rate=0.2","x":68,"y":0.037},{"s":"learn-rate=0.2","x":69,"y":0.037},{"s":"learn-rate=0.2","x":70,"y":0.038},
{"s":"learn-rate=0.2","x":71,"y":0.037},{"s":"learn-rate=0.2","x":72,"y":0.036},{"s":"learn-rate=0.2","x":73,"y":0.037},{"s":"learn-rate=0.2","x":74,"y":0.038},{"s":"learn-rate=0.2","x":75,"y":0.038},{"s":"learn-rate=0.2","x":76,"y":0.037},{"s":"learn-rate=0.2","x":77,"y":0.036},{"s":"learn-rate=0.2","x":78,"y":0.04},{"s":"learn-rate=0.2","x":79,"y":0.038},{"s":"learn-rate=0.2","x":80,"y":0.039},
{"s":"learn-rate=0.2","x":81,"y":0.037},{"s":"learn-rate=0.2","x":82,"y":0.036},{"s":"learn-rate=0.2","x":83,"y":0.036},{"s":"learn-rate=0.2","x":84,"y":0.037},{"s":"learn-rate=0.2","x":85,"y":0.04},{"s":"learn-rate=0.2","x":86,"y":0.045},{"s":"learn-rate=0.2","x":87,"y":0.05},{"s":"learn-rate=0.2","x":88,"y":0.079},{"s":"learn-rate=0.2","x":89,"y":0.05},{"s":"learn-rate=0.2","x":90,"y":0.052},
{"s":"learn-rate=0.2","x":91,"y":0.056},{"s":"learn-rate=0.2","x":92,"y":0.047},{"s":"learn-rate=0.2","x":93,"y":0.04},{"s":"learn-rate=0.2","x":94,"y":0.033},{"s":"learn-rate=0.2","x":95,"y":0.03},{"s":"learn-rate=0.2","x":96,"y":0.032},{"s":"learn-rate=0.2","x":97,"y":0.035},{"s":"learn-rate=0.2","x":98,"y":0.036},{"s":"learn-rate=0.2","x":99,"y":0.036},{"s":"learn-rate=0.2","x":100,"y":0.037}
]},
"layer":[
{
"mark":{"type":"line","strokeWidth":3,"clip":true},
"encoding":{
"x":{"field":"x","type":"quantitative","scale":{"domain":[0,100],"nice":false},
"axis":{"values":[0,10,20,30,40,50,60,70,80,90,100],"title":"Epochs","titleFont":"Liberation Serif","titleFontSize":17,"titleFontWeight":"bold","titleColor":"black","titlePadding":4,"labelPadding":8,"domain":true,"domainWidth":2,"domainColor":"black","ticks":true,"tickSize":-4,"tickColor":"black"}},
"y":{"field":"y","type":"quantitative","scale":{"domain":[0,1.2],"nice":false,"zero":true},
"axis":{"values":[0,0.2,0.4,0.6,0.8,1],"format":"~g","title":null,"labelPadding":8,"domain":true,"domainWidth":2,"domainColor":"black","ticks":true,"tickSize":-4,"tickColor":"black"}},
"color":{"field":"s","type":"nominal","sort":null,
"scale":{"domain":["learn-rate=0.001","learn-rate=0.0025","learn-rate=0.005","learn-rate=0.0075","learn-rate=0.1","learn-rate=0.15","learn-rate=0.2"],
"range":["#0000FF","#008000","#FF0000","#00BFBF","#BF00BF","#BFBF00","#404040"]},
"legend":{"title":null,"orient":"none","legendX":362,"legendY":6,"symbolType":"stroke","symbolSize":1521,"symbolStrokeWidth":4,"clipHeight":22,"labelFont":"Liberation Serif","labelFontSize":20.5,"labelFontWeight":"bold","labelColor":"black","labelLimit":300,"labelOffset":5,"fillColor":"white","strokeColor":"black","padding":5,"rowPadding":4.5}}
}
},
{
"mark":{"type":"line","opacity":0},
"encoding":{
"x":{"field":"x","type":"quantitative","axis":{"orient":"top","values":[0,10,20,30,40,50,60,70,80,90,100],"labels":false,"title":null,"grid":false,"domain":false,"ticks":true,"tickSize":-4,"tickColor":"black"}},
"y":{"field":"y","type":"quantitative","axis":{"orient":"right","values":[0,0.2,0.4,0.6,0.8,1],"labels":false,"title":null,"grid":false,"domain":false,"ticks":true,"tickSize":-4,"tickColor":"black"}},
"detail":{"field":"s"}
}
}
],
"resolve":{"axis":{"x":"independent","y":"independent"}},
"config":{
"view":{"stroke":"black","strokeWidth":1},
"axis":{"labelFont":"Liberation Sans","labelFontSize":13,"labelColor":"black","grid":true,"gridColor":"#333333","gridDash":[2,2],"gridWidth":0.6,"gridOpacity":0.8}
}
}
